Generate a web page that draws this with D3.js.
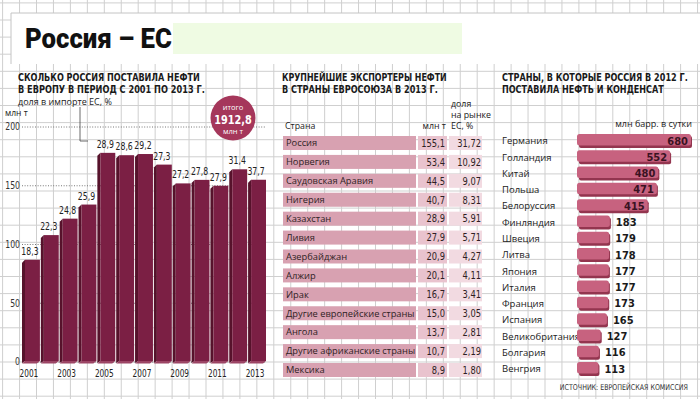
<!DOCTYPE html>
<html>
<head>
<meta charset="utf-8">
<script src="https://cdn.jsdelivr.net/npm/d3@7.9.0/dist/d3.min.js"></script>
<style>
  body { margin: 0; background: #fff; }
  svg { display: block; }
  .cond { font-family: "Liberation Sans Narrow", "DejaVu Sans Condensed", "Arial Narrow", "Liberation Sans", sans-serif; }
  .round { font-family: "Open Sans", "Noto Sans", sans-serif; }
</style>
</head>
<body>
<svg id="chart" width="700" height="399"></svg>
<script>
// ---- data ----
const years = [2001, 2002, 2003, 2004, 2005, 2006, 2007, 2008, 2009, 2010, 2011, 2012, 2013];
const importVolumes = [87, 108, 122, 134, 178, 176, 177, 168, 152, 155, 150, 164, 155.1]; // млн т
const importShares = ['18,3', '22,3', '24,8', '25,9', '28,9', '28,6', '29,2', '27,3', '27,2', '27,8', '27,9', '31,4', '37,7'];
const yTicks = [0, 50, 100, 150, 200];
const yearLabels = [2001, 2003, 2005, 2007, 2009, 2011, 2013];

const exporters = ['Россия', 'Норвегия', 'Саудовская Аравия', 'Нигерия', 'Казахстан', 'Ливия', 'Азербайджан',
  'Алжир', 'Ирак', 'Другие европейские страны', 'Ангола', 'Другие африканские страны', 'Мексика'];
const exportVolumes = ['155,1', '53,4', '44,5', '40,7', '28,9', '27,9', '20,9', '20,1', '16,7', '15,0', '13,7', '10,7', '8,9'];
const exportShares = ['31,72', '10,92', '9,07', '8,31', '5,91', '5,71', '4,27', '4,11', '3,41', '3,05', '2,81', '2,19', '1,80'];

const destinations = ['Германия', 'Голландия', 'Китай', 'Польша', 'Белоруссия', 'Финляндия', 'Швеция', 'Литва',
  'Япония', 'Италия', 'Франция', 'Испания', 'Великобритания', 'Болгария', 'Венгрия'];
const destVolumes = [680, 552, 480, 471, 415, 183, 179, 178, 177, 177, 173, 165, 127, 116, 113];

const svg = d3.select('#chart');

// squeeze text horizontally around its anchor x (no narrow font installed)
function squeeze(sel, k) {
  sel.attr('transform', function () {
    const x0 = +this.getAttribute('x');
    return `translate(${x0},0) scale(${k},1) translate(${-x0},0)`;
  });
}
// squeeze a text to an exact width
function fitTo(sel, width) {
  sel.each(function () {
    const len = this.getComputedTextLength();
    const x0 = +this.getAttribute('x');
    this.setAttribute('transform', `translate(${x0},0) scale(${width / len},1) translate(${-x0},0)`);
  });
}

// ---- background grid ----
const grid = svg.append('g').attr('stroke', '#cfcfcf').attr('stroke-width', 1);
grid.selectAll('line.v')
  .data(d3.range(0, 42))
  .join('line')
  .attr('x1', (i) => 2.6 + i * 16.95).attr('x2', (i) => 2.6 + i * 16.95)
  .attr('y1', 0).attr('y2', 399);
grid.selectAll('line.h')
  .data(d3.range(0, 24))
  .join('line')
  .attr('x1', 0).attr('x2', 700)
  .attr('y1', (i) => 2.9 + i * 17.1).attr('y2', (i) => 2.9 + i * 17.1);

// ---- title band ----
svg.append('rect').attr('x', 11).attr('y', 13).attr('width', 700).attr('height', 51).attr('fill', '#fff');
svg.append('path').attr('d', 'M11,64 V13 H700').attr('fill', 'none').attr('stroke', '#c4c4c4');
svg.append('rect').attr('x', 173).attr('y', 23).attr('width', 289).attr('height', 31).attr('fill', '#effbe3');
svg.append('text')
  .attr('x', 25).attr('y', 48)
  .attr('font-family', 'Roboto, "Liberation Sans", sans-serif')
  .attr('font-weight', 900).attr('font-size', 27)
  .attr('fill', '#111')
  .text('Россия – ЕС')
  .call(fitTo, 147);

// helper for section titles
function heading(x, y, txt, len) {
  svg.append('text').attr('class', 'cond')
    .attr('x', x).attr('y', y)
    .attr('font-weight', 'bold').attr('font-size', 10.5)
    .attr('fill', '#1a1a1a')
    .text(txt)
    .call(fitTo, len);
}

// ================= LEFT: bar chart =================
heading(18, 81, 'СКОЛЬКО РОССИЯ ПОСТАВИЛА НЕФТИ', 182);
heading(18, 93, 'В ЕВРОПУ В ПЕРИОД С 2001 ПО 2013 Г.', 187);
svg.append('text').attr('class', 'round')
  .attr('x', 18).attr('y', 105).attr('font-size', 9).attr('fill', '#222')
  .text('доля в импорте ЕС, %')
  .call(fitTo, 94);
svg.append('text').attr('class', 'round')
  .attr('x', 5).attr('y', 116).attr('font-size', 8.5).attr('fill', '#222')
  .text('млн т');

const x = d3.scaleBand().domain(years).range([22, 266]).paddingInner(0.05);
const y = d3.scaleLinear().domain([0, 200]).range([362, 127]);
const depth = 3;

// dotted reference lines
svg.append('g')
  .selectAll('line')
  .data(yTicks)
  .join('line')
  .attr('x1', 22).attr('x2', 266)
  .attr('y1', (d) => y(d)).attr('y2', (d) => y(d))
  .attr('stroke', '#777').attr('stroke-dasharray', '1,1.6');

svg.append('g')
  .selectAll('text')
  .data(yTicks)
  .join('text')
  .attr('class', 'cond')
  .attr('x', 20).attr('y', (d) => y(d) + 3.5)
  .attr('text-anchor', 'end').attr('font-size', 10.5).attr('fill', '#333')
  .text((d) => d)
  .call(squeeze, 0.82);

// connector from share caption
svg.append('path')
  .attr('d', 'M80,107 V141 H88')
  .attr('fill', 'none').attr('stroke', '#444').attr('stroke-width', 0.8);

const bars = svg.append('g')
  .selectAll('g')
  .data(years.map((yr, i) => ({ yr, v: importVolumes[i], s: importShares[i] })))
  .join('g');

// side face (left)
bars.append('path')
  .attr('d', (d) => {
    const x0 = x(d.yr) + depth, top = y(d.v), bot = y(0);
    return `M${x0},${top} L${x0 - depth},${top + depth} L${x0 - depth},${bot + 1} L${x0},${bot - 1} Z`;
  })
  .attr('fill', '#56122b');
// bottom face
bars.append('path')
  .attr('d', (d) => {
    const x0 = x(d.yr) + depth, x1 = x(d.yr) + x.bandwidth(), bot = y(0);
    return `M${x0},${bot - 1} L${x1},${bot - 1} L${x1 - depth},${bot + 1.5} L${x0 - depth},${bot + 1.5} Z`;
  })
  .attr('fill', '#9c4565');
// front face
bars.append('rect')
  .attr('x', (d) => x(d.yr) + depth)
  .attr('y', (d) => y(d.v))
  .attr('width', x.bandwidth() - depth)
  .attr('height', (d) => y(0) - 1 - y(d.v))
  .attr('fill', '#7b1f44');

bars.append('text')
  .attr('class', 'cond')
  .attr('x', (d) => x(d.yr) + x.bandwidth() / 2 - 1)
  .attr('y', (d) => y(d.v) - 5)
  .attr('text-anchor', 'middle').attr('font-size', 10.5).attr('fill', '#222')
  .text((d) => d.s)
  .call(squeeze, 0.82);

svg.append('g')
  .selectAll('text')
  .data(yearLabels)
  .join('text')
  .attr('class', 'cond')
  .attr('x', (d) => x(d) + x.bandwidth() / 2 - 2)
  .attr('y', 377)
  .attr('text-anchor', 'middle').attr('font-size', 10.5).attr('fill', '#222')
  .text((d) => d)
  .call(squeeze, 0.78);

// total badge
const badge = svg.append('g').attr('transform', 'translate(233,118)');
badge.append('circle').attr('r', 22.5).attr('fill', '#a5375b');
badge.append('text').attr('class', 'round').attr('x', 0).attr('y', -8).attr('text-anchor', 'middle')
  .attr('font-size', 7.5).attr('fill', '#fff').text('итого');
badge.append('text').attr('class', 'cond').attr('x', 0).attr('y', 5.5).attr('text-anchor', 'middle')
  .attr('font-size', 12).attr('font-weight', 'bold').attr('fill', '#fff').text('1912,8')
  .call(squeeze, 0.9);
badge.append('text').attr('class', 'round').attr('x', 0).attr('y', 15.5).attr('text-anchor', 'middle')
  .attr('font-size', 7.5).attr('fill', '#fff').text('млн т');

// ================= MIDDLE: table =================
heading(282, 81, 'КРУПНЕЙШИЕ ЭКСПОРТЕРЫ НЕФТИ', 165);
heading(282, 93, 'В СТРАНЫ ЕВРОСОЮЗА В 2013 Г.', 156);

const hdr = svg.append('g').attr('class', 'round').attr('font-size', 8.8).attr('fill', '#222');
hdr.append('text').attr('x', 285).attr('y', 129).text('Страна');
hdr.append('text').attr('x', 446).attr('y', 129).attr('text-anchor', 'end').text('млн т');
hdr.append('text').attr('x', 451).attr('y', 107).text('доля');
hdr.append('text').attr('x', 451).attr('y', 118).text('на рынке');
hdr.append('text').attr('x', 451).attr('y', 129).text('ЕС, %');

const rowY = d3.scalePoint().domain(exporters).range([143, 370]);
const rows = svg.append('g')
  .selectAll('g')
  .data(exporters.map((name, i) => ({ name, v: exportVolumes[i], s: exportShares[i] })))
  .join('g')
  .attr('transform', (d) => `translate(0,${rowY(d.name)})`);

rows.append('rect').attr('x', 283).attr('y', -7).attr('width', 133).attr('height', 14).attr('fill', '#d8a1b1');
rows.append('rect').attr('x', 418).attr('y', -7).attr('width', 29).attr('height', 14).attr('fill', '#e9c3ce');
rows.append('rect').attr('x', 449).attr('y', -7).attr('width', 33).attr('height', 14).attr('fill', '#f2dae1');
rows.append('text').attr('class', 'round')
  .attr('x', 286).attr('y', 3.3).attr('font-size', 9.3).attr('fill', '#2e1e24')
  .text((d) => d.name);
rows.append('text').attr('class', 'cond')
  .attr('x', 445).attr('y', 3.8).attr('text-anchor', 'end').attr('font-size', 10.5).attr('fill', '#2e1e24')
  .text((d) => d.v)
  .call(squeeze, 0.88);
rows.append('text').attr('class', 'cond')
  .attr('x', 481).attr('y', 3.8).attr('text-anchor', 'end').attr('font-size', 10.5).attr('fill', '#2e1e24')
  .text((d) => d.s)
  .call(squeeze, 0.88);

// ================= RIGHT: horizontal bars =================
heading(502, 81, 'СТРАНЫ, В КОТОРЫЕ РОССИЯ В 2012 Г.', 186);
heading(502, 93, 'ПОСТАВИЛА НЕФТЬ И КОНДЕНСАТ', 162);
svg.append('text').attr('class', 'round')
  .attr('x', 692).attr('y', 127).attr('text-anchor', 'end')
  .attr('font-size', 9).attr('fill', '#222')
  .text('млн барр. в сутки');

const xr = d3.scaleLinear().domain([0, 680]).range([581, 692]);
const ry = d3.scalePoint().domain(destinations).range([141, 369]);
const hb = svg.append('g')
  .selectAll('g')
  .data(destinations.map((name, i) => ({ name, v: destVolumes[i], inside: i < 5 })))
  .join('g')
  .attr('transform', (d) => `translate(0,${ry(d.name)})`);

hb.append('text').attr('class', 'round')
  .attr('x', 502).attr('y', 3.3).attr('font-size', 9.5).attr('fill', '#222')
  .text((d) => d.name);
hb.append('rect')
  .attr('x', 579).attr('y', -5)
  .attr('width', (d) => xr(d.v) - 579).attr('height', 12).attr('rx', 2)
  .attr('fill', '#93354f');
hb.append('rect')
  .attr('x', 577).attr('y', -7)
  .attr('width', (d) => xr(d.v) - 578).attr('height', 11.5).attr('rx', 2.5)
  .attr('fill', '#c7627f');
hb.append('text').attr('class', 'cond')
  .attr('x', (d) => d.inside ? xr(d.v) - 4 : xr(d.v) + 5)
  .attr('y', 3.5)
  .attr('text-anchor', (d) => d.inside ? 'end' : 'start')
  .attr('font-size', 11).attr('font-weight', 'bold')
  .attr('fill', (d) => d.inside ? '#3a1222' : '#1a1a1a')
  .text((d) => d.v);

svg.append('text').attr('class', 'cond')
  .attr('x', 688).attr('y', 390).attr('text-anchor', 'end')
  .attr('font-size', 8).attr('fill', '#333')
  .text('ИСТОЧНИК: ЕВРОПЕЙСКАЯ КОМИССИЯ')
  .call(squeeze, 0.88);
</script>
</body>
</html>
